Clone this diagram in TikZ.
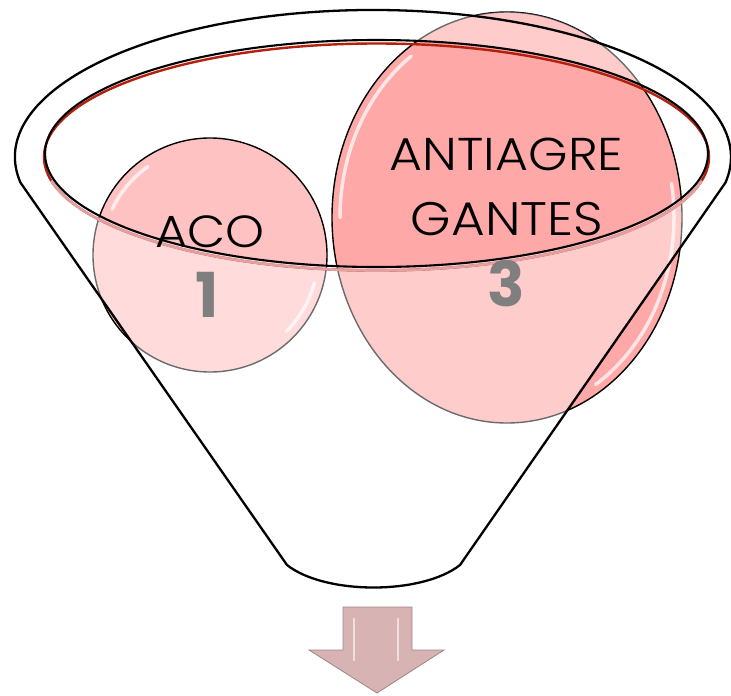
\documentclass[tikz,border=0pt]{standalone}
\usepackage{fontspec}
\setmainfont{Poppins}
\newfontfamily\gothic{Poppins Light}[FakeStretch=1.1]
\definecolor{pinkA}{HTML}{FFA8A8}
\definecolor{pinkB}{HTML}{FFC2C2}
\definecolor{rimred}{HTML}{B3200E}
\definecolor{rimpink}{HTML}{E3A0A0}
\definecolor{numgray}{HTML}{7F7F7F}
\definecolor{arrowfill}{HTML}{D8B3B3}
\definecolor{arrowline}{HTML}{9E8686}
\tikzset{
  ballline/.style={draw=black, line width=1.4pt},
  gloss/.style={white, line width=3.5pt, opacity=.7, line cap=round},
  funnelline/.style={draw=black, line width=2.3pt, line join=round},
  lbl/.style={inner sep=0pt, text=black},
  num/.style={inner sep=0pt, text=numgray, font=\bfseries\fontsize{62}{62}\selectfont},
}
\begin{document}
\begin{tikzpicture}[x=1pt,y=1pt,yscale=-1]
\useasboundingbox (0,0) rectangle (731,696);
\fill[white] (0,0) rectangle (731,696);

% ball 1
\path[fill=pinkB, ballline] (210,255) circle[radius=117pt];
% ball 3
\path[fill=pinkA, ballline] (507,217.5) ellipse[x radius=175pt, y radius=205.5pt];
% lighter top of ball 3 above the rim
\begin{scope}
  \clip (507,217.5) ellipse[x radius=175pt, y radius=205.5pt];
  \fill[white, opacity=.33] (15,157) arc[start angle=180, end angle=360, x radius=358pt, y radius=147pt] -- (731,157) -- (731,0) -- (0,0) -- (0,157) -- cycle;
\end{scope}

% gloss streaks
\draw[gloss] (210,255) ++(205:108pt and 108pt) arc[start angle=205, end angle=235, x radius=108pt, y radius=108pt];
\draw[gloss] (210,255) ++(15:108pt and 108pt) arc[start angle=15, end angle=45, x radius=108pt, y radius=108pt];
\draw[gloss] (507,217.5) ++(180:167pt and 197pt) arc[start angle=180, end angle=235, x radius=167pt, y radius=197pt];
\draw[gloss] (507,217.5) ++(-10:167pt and 197pt) arc[start angle=-10, end angle=58, x radius=167pt, y radius=197pt];

% funnel body veil (with opening)
\fill[white, fill opacity=.42, even odd rule]
  (20.4,182.5) arc[start angle=170, end angle=370, x radius=358pt, y radius=147pt]
  -- (460,565) .. controls (422,595) and (325,595) .. (287,565) -- cycle
  (376.5,153.5) ellipse[x radius=331.5pt, y radius=113.5pt];

% red shading of inner rim
\draw[rimred, line width=2.4pt] (376.5,157) ellipse[x radius=332.5pt, y radius=113.5pt];
\draw[rimpink, line width=2.6pt] (376.5,157) ++(12:332.5pt and 113.5pt) arc[start angle=12, end angle=168, x radius=332.5pt, y radius=113.5pt];

% funnel outline
\path[funnelline] (20.4,182.5) arc[start angle=170, end angle=370, x radius=358pt, y radius=147pt]
  -- (460,565) .. controls (422,595) and (325,595) .. (287,565) -- cycle;
\draw[black, line width=2.1pt] (376.5,153.5) ellipse[x radius=331.5pt, y radius=113.5pt];

% texts
\node[lbl, font=\gothic\fontsize{45}{45}\selectfont] (aco) at (210,232) {ACO};
\node[num] (one) at (207,294.5) {1};
\node[lbl, font=\gothic\fontsize{46}{46}\selectfont] (anti) at (506.5,154) {ANTIAGRE};
\node[lbl, font=\gothic\fontsize{47}{47}\selectfont] (gant) at (507,219) {GANTES};
\node[num] (three) at (506.5,283.5) {3};

% output arrow
\path[fill=arrowfill, draw=arrowline, line width=.8pt, line join=miter]
  (343,607) -- (412,607) -- (412,650) -- (444,650) -- (377,693) -- (309,650) -- (343,650) -- cycle;
\draw[white, line width=2.5pt, opacity=.6, line cap=round] (354,619) -- (354,660);
\draw[white, line width=2.5pt, opacity=.6, line cap=round] (398,619) -- (398,660);
\end{tikzpicture}
\end{document}
